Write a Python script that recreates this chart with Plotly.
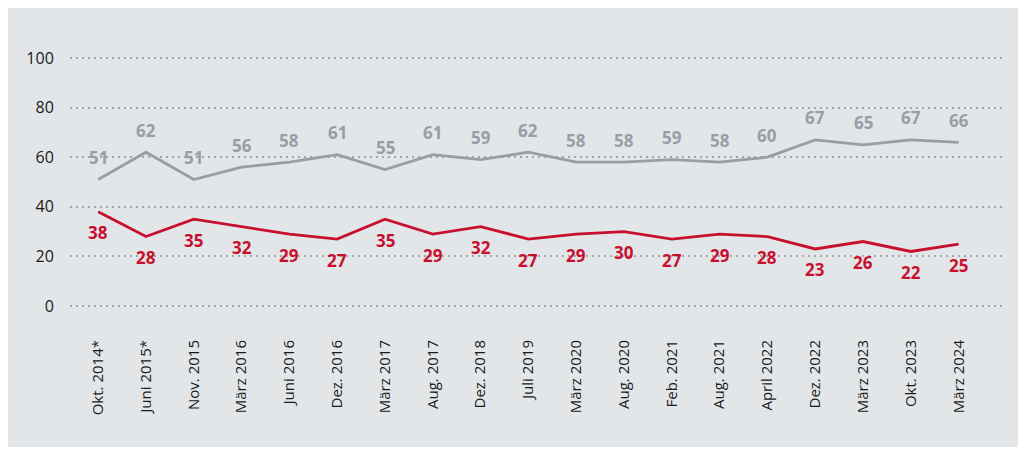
import plotly.graph_objects as go

# Zeitpunkte der Befragung
kategorien = ["Okt. 2014*", "Juni 2015*", "Nov. 2015", "März 2016", "Juni 2016", "Dez. 2016",
              "März 2017", "Aug. 2017", "Dez. 2018", "Juli 2019", "März 2020", "Aug. 2020",
              "Feb. 2021", "Aug. 2021", "April 2022", "Dez. 2022", "März 2023", "Okt. 2023",
              "März 2024"]

# Werte in Prozent
werte_grau = [51, 62, 51, 56, 58, 61, 55, 61, 59, 62, 58, 58, 59, 58, 60, 67, 65, 67, 66]
werte_rot = [38, 28, 35, 32, 29, 27, 35, 29, 32, 27, 29, 30, 27, 29, 28, 23, 26, 22, 25]

y_ticks = [0, 20, 40, 60, 80, 100]

GRAU = "#989ea5"
ROT = "#c8102e"
HINTERGRUND = "#e3e6e9"
SCHRIFT = "Open Sans"

fig = go.Figure()

fig.add_trace(go.Scatter(x=kategorien, y=werte_grau, mode="lines",
                         line=dict(color=GRAU, width=2.8), hoverinfo="x+y"))
fig.add_trace(go.Scatter(x=kategorien, y=werte_rot, mode="lines",
                         line=dict(color=ROT, width=2.8), hoverinfo="x+y"))

# Datenbeschriftungen: grau oberhalb, rot unterhalb der Linie
for k, v in zip(kategorien, werte_grau):
    fig.add_annotation(x=k, y=v, text=f"<b>{v}</b>", showarrow=False, yshift=22,
                       font=dict(family=SCHRIFT, size=17, color=GRAU))
for k, v in zip(kategorien, werte_rot):
    fig.add_annotation(x=k, y=v, text=f"<b>{v}</b>", showarrow=False, yshift=-21,
                       font=dict(family=SCHRIFT, size=17, color=ROT))

# Seite hat 8px Rand, die Grafik selbst ist der graue Kasten
fig.update_layout(
    width=1012,
    height=439,
    margin=dict(l=62, r=15, t=45, b=136),
    paper_bgcolor=HINTERGRUND,
    plot_bgcolor=HINTERGRUND,
    showlegend=False,
    font=dict(family=SCHRIFT, color="#1a1a1a"),
)
fig.update_xaxes(range=[-0.59, 18.97], tickangle=-90, showgrid=False, zeroline=False, showline=False,
                 ticks="outside", ticklen=22, tickcolor="rgba(0,0,0,0)", automargin=False,
                 tickfont=dict(family=SCHRIFT, size=15, color="#1a1a1a"))
fig.update_yaxes(range=[-2, 102], tickvals=y_ticks, showgrid=True, gridcolor="#a3a5a8", gridwidth=1.6,
                 griddash="1.6px,4.4px", zeroline=False, showline=False, automargin=False,
                 ticks="outside", ticklen=12, tickcolor="rgba(0,0,0,0)",
                 tickfont=dict(family=SCHRIFT, size=16, color="#1a1a1a"))

fig.write_html("out.html")
